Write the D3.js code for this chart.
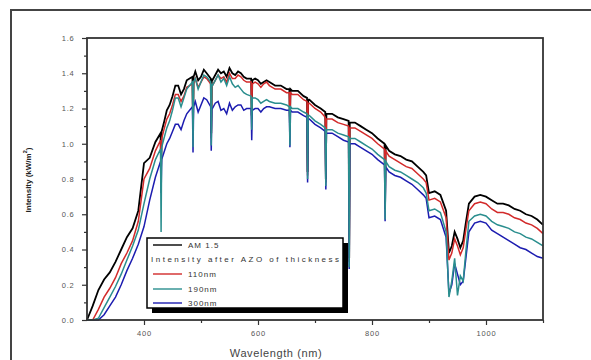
<!DOCTYPE html>
<html>
<head>
<meta charset="utf-8">
<script src="https://cdn.jsdelivr.net/npm/d3@7"></script>
<style>
  html, body { margin: 0; padding: 0; background: #fff; }
  svg { display: block; }
</style>
</head>
<body>
<div id="chart"></div>
<script>
const W = 591, H = 360;

// wavelength grid (nm)
const wavelength = [
  300,310,320,330,340,350,360,370,380,390,
  400,410,420,429,430,431,435,440,445,450,
  455,460,465,470,475,480,485,486,487,490,
  495,500,505,510,517,518,519,520,525,530,
  535,540,545,550,555,560,565,570,575,580,
  588,589,590,595,600,605,610,615,620,630,
  640,650,655,656,657,660,670,680,686,687,
  688,690,700,710,718,719,720,730,740,750,
  759,760,761,770,780,790,800,810,822,823,
  824,830,840,850,860,870,880,890,895,900,
  910,920,930,935,940,945,950,955,960,965,
  970,980,990,1000,1010,1020,1030,1040,1050,1060,
  1070,1080,1090,1100];

const am15 = [
  0.00,0.08,0.17,0.23,0.27,0.33,0.40,0.47,0.52,0.62,
  0.89,0.92,1.01,1.06,0.86,1.07,1.12,1.19,1.22,1.27,
  1.33,1.33,1.28,1.31,1.36,1.37,1.38,1.08,1.38,1.41,
  1.36,1.38,1.42,1.40,1.37,1.06,1.37,1.36,1.39,1.42,
  1.40,1.41,1.38,1.43,1.40,1.39,1.41,1.40,1.38,1.37,
  1.37,1.16,1.36,1.37,1.36,1.34,1.35,1.36,1.35,1.33,
  1.33,1.31,1.31,1.10,1.31,1.30,1.30,1.27,1.26,0.84,
  1.25,1.25,1.22,1.20,1.18,0.80,1.17,1.17,1.15,1.14,
  1.13,0.35,1.12,1.12,1.10,1.08,1.06,1.03,1.00,0.66,
  0.99,0.96,0.94,0.93,0.91,0.90,0.87,0.84,0.82,0.72,
  0.73,0.71,0.62,0.38,0.42,0.50,0.46,0.41,0.45,0.56,
  0.66,0.70,0.71,0.70,0.68,0.66,0.66,0.65,0.63,0.62,
  0.60,0.59,0.57,0.54];

const azo110 = [
  0.00,0.00,0.06,0.13,0.18,0.24,0.32,0.38,0.45,0.56,
  0.80,0.86,0.96,1.02,0.82,1.03,1.08,1.14,1.17,1.22,
  1.28,1.28,1.24,1.27,1.32,1.33,1.34,1.05,1.34,1.37,
  1.32,1.35,1.38,1.37,1.34,1.03,1.34,1.33,1.36,1.39,
  1.37,1.38,1.35,1.40,1.37,1.37,1.39,1.38,1.36,1.35,
  1.35,1.14,1.34,1.35,1.34,1.32,1.34,1.35,1.33,1.31,
  1.31,1.29,1.29,1.08,1.29,1.28,1.28,1.25,1.24,0.82,
  1.23,1.23,1.20,1.18,1.15,0.78,1.14,1.14,1.12,1.11,
  1.10,0.33,1.09,1.09,1.07,1.05,1.03,1.00,0.97,0.63,
  0.96,0.93,0.91,0.89,0.87,0.86,0.83,0.80,0.78,0.68,
  0.69,0.67,0.58,0.34,0.38,0.46,0.42,0.37,0.41,0.52,
  0.62,0.66,0.67,0.66,0.63,0.61,0.61,0.60,0.58,0.57,
  0.55,0.54,0.52,0.49];

const azo190 = [
  0.00,0.00,0.01,0.07,0.13,0.19,0.26,0.34,0.42,0.51,
  0.66,0.80,0.91,0.97,0.50,0.98,1.03,1.09,1.13,1.19,
  1.26,1.26,1.21,1.26,1.31,1.33,1.35,0.98,1.35,1.37,
  1.31,1.35,1.39,1.38,1.35,0.99,1.34,1.33,1.36,1.39,
  1.35,1.37,1.33,1.38,1.34,1.32,1.33,1.31,1.29,1.28,
  1.27,1.08,1.26,1.26,1.25,1.23,1.24,1.25,1.24,1.23,
  1.23,1.22,1.21,0.99,1.21,1.20,1.20,1.18,1.17,0.80,
  1.16,1.16,1.13,1.11,1.09,0.76,1.08,1.08,1.06,1.05,
  1.04,0.30,1.03,1.03,1.01,0.99,0.97,0.94,0.91,0.57,
  0.90,0.87,0.85,0.84,0.82,0.80,0.78,0.75,0.72,0.62,
  0.63,0.61,0.50,0.13,0.22,0.35,0.14,0.25,0.22,0.40,
  0.56,0.59,0.60,0.59,0.56,0.54,0.53,0.52,0.50,0.49,
  0.47,0.46,0.44,0.42];

const azo300 = [
  0.00,0.00,0.00,0.03,0.08,0.13,0.20,0.28,0.35,0.43,
  0.53,0.68,0.81,0.90,0.72,0.91,0.95,1.00,1.03,1.07,
  1.11,1.11,1.08,1.13,1.17,1.19,1.21,0.95,1.21,1.24,
  1.18,1.22,1.26,1.25,1.21,0.96,1.20,1.20,1.23,1.24,
  1.19,1.20,1.17,1.23,1.19,1.21,1.22,1.22,1.19,1.20,
  1.20,1.02,1.19,1.20,1.20,1.18,1.20,1.21,1.21,1.20,
  1.20,1.19,1.19,0.98,1.19,1.18,1.18,1.16,1.15,0.78,
  1.14,1.14,1.11,1.09,1.07,0.74,1.06,1.06,1.04,1.02,
  1.01,0.29,1.00,1.00,0.98,0.96,0.94,0.91,0.88,0.56,
  0.87,0.84,0.82,0.81,0.79,0.77,0.74,0.71,0.69,0.58,
  0.59,0.57,0.47,0.15,0.20,0.32,0.26,0.20,0.22,0.36,
  0.50,0.55,0.56,0.55,0.51,0.49,0.47,0.45,0.43,0.41,
  0.40,0.38,0.36,0.35];

const seriesNames = ["AM 1.5", "110nm", "190nm", "300nm"];
const seriesColors = ["#000000", "#d22a2a", "#2a8e8e", "#1c1cb0"];
const xTicks = [400, 600, 800, 1000];
const yTicks = [0.0, 0.2, 0.4, 0.6, 0.8, 1.0, 1.2, 1.4, 1.6];

const margin = {left: 87, top: 38, right: 48, bottom: 40};

const svg = d3.select("#chart").append("svg")
    .attr("width", W)
    .attr("height", H)
    .attr("font-family", "Arial, 'Liberation Sans', sans-serif");

// outer frame (cut off at right and bottom)
svg.append("rect")
    .attr("x", 11).attr("y", 10)
    .attr("width", W + 20).attr("height", H + 20)
    .attr("fill", "#fff")
    .attr("stroke", "#444")
    .attr("stroke-width", 2);

const x = d3.scaleLinear().domain([300, 1100]).range([margin.left, W - margin.right]);
const y = d3.scaleLinear().domain([0, 1.6]).range([H - margin.bottom, margin.top]);

const g = svg.append("g");

const line = d3.line()
    .x((d, i) => x(wavelength[i]))
    .y(d => y(d));

// draw order: black, red, blue, teal on top
const drawOrder = [0, 1, 3, 2];
const allSeries = [am15, azo110, azo190, azo300];
g.append("g")
    .selectAll("path")
    .data(drawOrder)
    .join("path")
    .attr("d", k => line(allSeries[k]))
    .attr("fill", "none")
    .attr("stroke", k => seriesColors[k])
    .attr("stroke-width", k => k === 0 ? 1.8 : 1.5)
    .attr("stroke-linejoin", "miter");

// axes
const xAxis = g.append("g")
    .attr("transform", `translate(0,${y(0)})`)
    .call(d3.axisBottom(x).tickValues(xTicks).tickSize(5).tickFormat(d3.format("d")));
const xMinor = g.append("g")
    .attr("transform", `translate(0,${y(0)})`)
    .call(d3.axisBottom(x).tickValues([500, 700, 900, 1100]).tickSize(3).tickFormat(""));
const yAxis = g.append("g")
    .attr("transform", `translate(${x(300)},0)`)
    .call(d3.axisLeft(y).tickValues(yTicks).tickSize(5).tickFormat(d3.format(".1f")));
const yMinor = g.append("g")
    .attr("transform", `translate(${x(300)},0)`)
    .call(d3.axisLeft(y).tickValues(d3.range(0.1, 1.6, 0.2)).tickSize(3).tickFormat(""));

[xAxis, xMinor, yAxis, yMinor].forEach(a => {
    a.select(".domain").remove();
    a.selectAll("line").attr("stroke", "#333").attr("stroke-width", 1.2);
});
xAxis.selectAll("text").attr("font-size", 7.5).attr("fill", "#555").attr("dy", "1.1em").attr("letter-spacing", 0.8);
yAxis.selectAll("text").attr("font-size", 7.5).attr("fill", "#555").attr("dx", "-0.6em").attr("letter-spacing", 0.8);

// plot frame
g.append("rect")
    .attr("x", x(300)).attr("y", y(1.6))
    .attr("width", x(1100) - x(300))
    .attr("height", y(0) - y(1.6))
    .attr("fill", "none")
    .attr("stroke", "#333")
    .attr("stroke-width", 1.8);

// axis titles
svg.append("text")
    .attr("x", 276).attr("y", 357)
    .attr("text-anchor", "middle")
    .attr("font-size", 11)
    .attr("fill", "#444")
    .attr("letter-spacing", 0.6)
    .text("Wavelength (nm)");

const yl = svg.append("text")
    .attr("transform", "translate(31,180) rotate(-90)")
    .attr("text-anchor", "middle")
    .attr("font-size", 8)
    .attr("fill", "#222")
    .attr("font-weight", "bold");
yl.append("tspan").text("Intensity (kW/m");
yl.append("tspan").attr("font-size", 5.5).attr("dy", -4).text("2");
yl.append("tspan").attr("dy", 4).text(")");

// legend
const lg = svg.append("g");
const lx = 147, ly = 238, lw = 196, lh = 70;
lg.append("rect")
    .attr("x", lx + 5).attr("y", ly + 5)
    .attr("width", lw).attr("height", lh)
    .attr("fill", "#000");
lg.append("rect")
    .attr("x", lx).attr("y", ly)
    .attr("width", lw).attr("height", lh)
    .attr("fill", "#fff")
    .attr("stroke", "#000")
    .attr("stroke-width", 1.5);

const rows = [
    {k: 0, yy: 245},
    {k: 1, yy: 274},
    {k: 2, yy: 289},
    {k: 3, yy: 303}
];
rows.forEach(r => {
    lg.append("line")
        .attr("x1", 153).attr("x2", 182)
        .attr("y1", r.yy).attr("y2", r.yy)
        .attr("stroke", seriesColors[r.k])
        .attr("stroke-width", 1.4);
    lg.append("text")
        .attr("x", 188).attr("y", r.yy + 3)
        .attr("font-size", 8)
        .attr("fill", "#333")
        .attr("letter-spacing", 1)
        .text(seriesNames[r.k]);
});
lg.append("text")
    .attr("x", 151).attr("y", 262)
    .attr("font-size", 8)
    .attr("fill", "#333")
    .attr("textLength", 188)
    .attr("lengthAdjust", "spacing")
    .text("Intensity after AZO of thickness");
</script>
</body>
</html>
